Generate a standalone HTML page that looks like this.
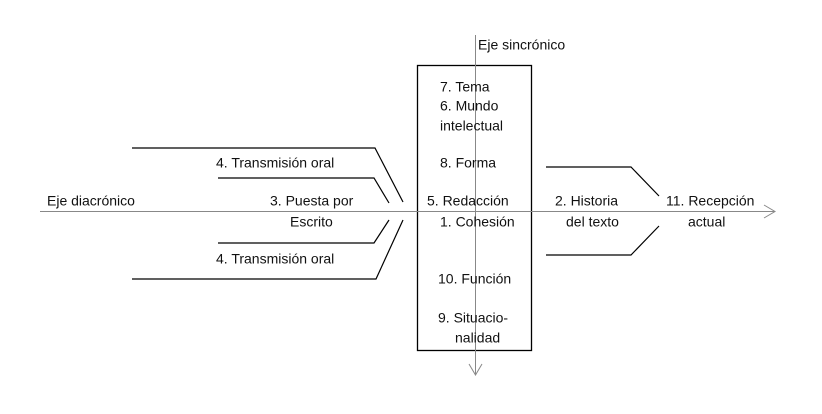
<!DOCTYPE html>
<html><head><meta charset="utf-8"><style>
html,body{margin:0;padding:0;background:#fff;}
svg{display:block;}
text{font-family:"Liberation Sans",sans-serif;font-size:14px;fill:#111;dominant-baseline:middle;}
</style></head><body>
<svg width="822" height="414" viewBox="0 0 822 414" xmlns="http://www.w3.org/2000/svg">
<rect x="417.5" y="65.5" width="114" height="285" fill="none" stroke="#000" stroke-width="1.3"/>
<g stroke="#888" stroke-width="1" fill="none">
<line x1="40" y1="211.5" x2="775" y2="211.5"/>
<polyline points="764,205 775,211.5 764,218"/>
<line x1="475.5" y1="35" x2="475.5" y2="375"/>
<polyline points="469,364 475.5,375 482,364"/>
</g>
<g stroke="#000" stroke-width="1.2" fill="none">
<polyline points="132,148 375,148 403,202"/>
<polyline points="218,178 374,178 389,203"/>
<polyline points="218,243 374,243 389,220"/>
<polyline points="132,279 376,279 403,220"/>
<polyline points="546,167 631,167 659,196"/>
<polyline points="546,255 631,255 659,226"/>
</g>
<g transform="translate(0,1)">
<text x="478" y="45">Eje sincrónico</text>
<text x="440" y="87">7. Tema</text>
<text x="440" y="106">6. Mundo</text>
<text x="440" y="126">intelectual</text>
<text x="440" y="163">8. Forma</text>
<text x="427" y="201">5. Redacción</text>
<text x="440" y="222">1. Cohesión</text>
<text x="438" y="279">10. Función</text>
<text x="438" y="318">9. Situacio-</text>
<text x="455" y="338">nalidad</text>
<text x="216" y="163">4. Transmisión oral</text>
<text x="270" y="201">3. Puesta por</text>
<text x="290" y="222">Escrito</text>
<text x="216" y="259">4. Transmisión oral</text>
<text x="47" y="201">Eje diacrónico</text>
<text x="555" y="201">2. Historia</text>
<text x="566" y="222">del texto</text>
<text x="666" y="201">11. Recepción</text>
<text x="688" y="222">actual</text>
</g>
</svg>
</body></html>
